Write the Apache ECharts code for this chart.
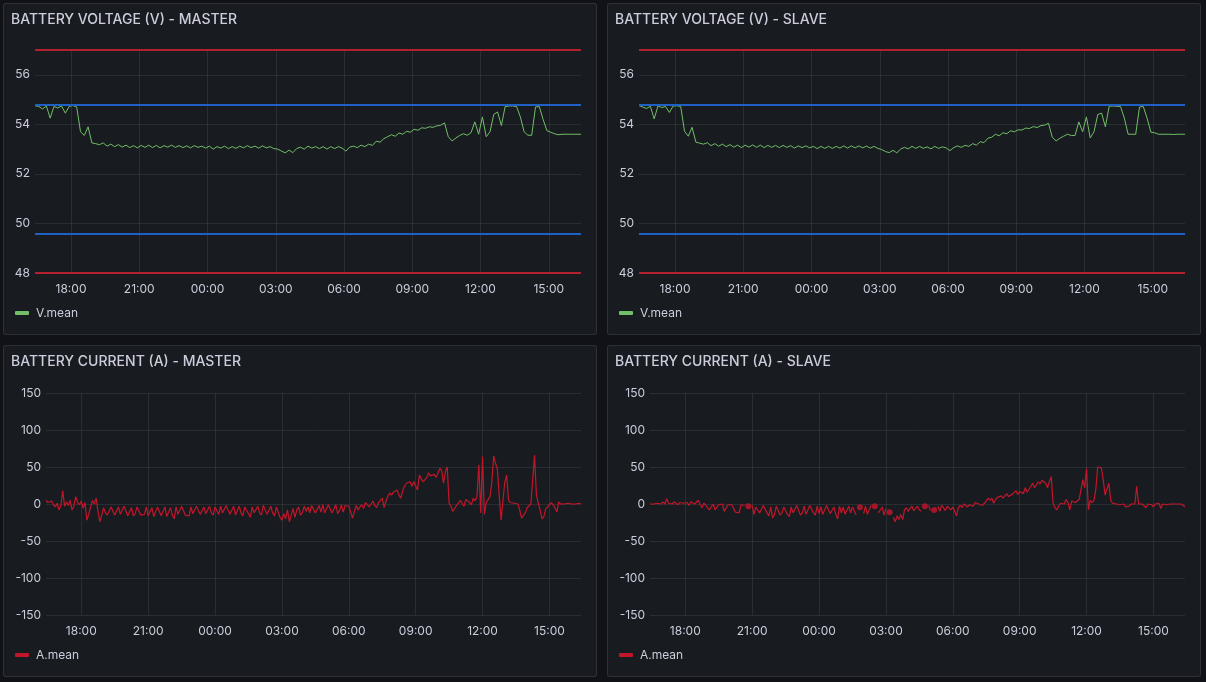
<!DOCTYPE html>
<html>
<head>
<meta charset="utf-8">
<title>Battery dashboard</title>
<script src="https://cdn.jsdelivr.net/npm/echarts@6/dist/echarts.min.js"></script>
<style>
  html, body { margin: 0; padding: 0; background: #111217; width: 1206px; height: 682px; overflow: hidden; }
  .panel { position: absolute; box-sizing: border-box; width: 594px; height: 332px;
           border: 1px solid rgba(204, 204, 220, 0.12); border-radius: 3px; background: #181b1f; }
  .chart { position: absolute; left: 0; top: 0; width: 592px; height: 330px; }
</style>
</head>
<body>
<div class="panel" style="left:3px;top:3px"><div class="chart" id="voltMaster"></div></div>
<div class="panel" style="left:607px;top:3px"><div class="chart" id="voltSlave"></div></div>
<div class="panel" style="left:3px;top:345px"><div class="chart" id="ampMaster"></div></div>
<div class="panel" style="left:607px;top:345px"><div class="chart" id="ampSlave"></div></div>
<script>
// time axis is in hours since midnight of the first day, 16:25 -> 16:25 next day
const T0 = 16 + 25 / 60;
const T1 = T0 + 24;
const VOLT_STEP = 10 / 60; // one sample every 10 min
const AMP_STEP = 5 / 60;   // one sample every 5 min

// threshold levels on the voltage panels
const redLevels = [57, 48];
const blueLevels = [54.8, 49.6];

// V.mean, one row per hour
const masterVolts = [
  54.75, 54.72, 54.62, 54.74, 54.25, 54.72,
  54.66, 54.74, 54.45, 54.72, 54.76, 54.7,
  53.7, 53.55, 53.9, 53.25, 53.22, 53.18,
  53.25, 53.12, 53.2, 53.1, 53.18, 53.08,
  53.16, 53.06, 53.14, 53.05, 53.15, 53.07,
  53.16, 53.06, 53.15, 53.05, 53.14, 53.08,
  53.16, 53.07, 53.14, 53.06, 53.13, 53.05,
  53.14, 53.07, 53.12, 53.04, 53.12, 53.0,
  53.1, 53.04, 53.12, 53.02, 53.1, 53.03,
  53.12, 53.05, 53.14, 53.06, 53.12, 53.04,
  53.13, 53.05, 53.1, 53.02, 53.0, 52.92,
  52.85, 52.96, 52.86, 53.02, 53.08, 53.0,
  53.12, 53.04, 53.1, 53.02, 53.1, 53.0,
  53.1, 53.02, 53.1, 53.04, 52.92, 53.08,
  53.12, 53.06, 53.16, 53.1, 53.2, 53.15,
  53.32, 53.28, 53.42, 53.5, 53.58, 53.52,
  53.65, 53.6, 53.72, 53.68, 53.8, 53.76,
  53.86, 53.84, 53.9, 53.88, 53.94, 53.96,
  54.06, 53.5, 53.33, 53.45, 53.55, 53.62,
  53.56, 53.66, 54.1, 53.6, 54.3, 53.5,
  53.7, 54.4, 54.5, 53.95, 54.72, 54.74,
  54.74, 54.72, 54.3, 53.7, 53.56, 53.56,
  54.7, 54.72, 54.2, 53.75, 53.68, 53.62,
  53.58, 53.6, 53.6, 53.6, 53.6, 53.6,
  53.6
];

const slaveVolts = [
  54.76, 54.7, 54.64, 54.73, 54.22, 54.74,
  54.68, 54.72, 54.48, 54.74, 54.75, 54.72,
  53.72, 53.52, 53.88, 53.28, 53.24, 53.2,
  53.26, 53.14, 53.22, 53.12, 53.2, 53.1,
  53.18, 53.08, 53.16, 53.06, 53.16, 53.08,
  53.17, 53.07, 53.16, 53.06, 53.15, 53.07,
  53.15, 53.06, 53.15, 53.07, 53.14, 53.04,
  53.13, 53.06, 53.13, 53.05, 53.11, 53.02,
  53.11, 53.03, 53.11, 53.03, 53.11, 53.04,
  53.13, 53.04, 53.13, 53.05, 53.13, 53.05,
  53.12, 53.04, 53.11, 53.03, 52.98, 52.9,
  52.86, 52.95, 52.85, 53.0, 53.07, 53.01,
  53.11, 53.03, 53.11, 53.03, 53.09, 53.01,
  53.11, 53.03, 53.09, 53.05, 52.94, 53.06,
  53.13, 53.07, 53.15, 53.11, 53.22, 53.16,
  53.3, 53.26, 53.44, 53.48, 53.6, 53.54,
  53.66, 53.62, 53.74, 53.7, 53.78, 53.77,
  53.85, 53.83, 53.91, 53.87, 53.95, 53.97,
  54.04, 53.48, 53.33, 53.44, 53.52, 53.6,
  53.55, 53.55, 54.1, 53.7, 54.3, 53.45,
  53.7, 54.4, 54.45, 53.9, 54.73, 54.74,
  54.73, 54.72, 54.25, 53.6, 53.6, 53.6,
  54.7, 54.72, 54.25, 53.68, 53.66, 53.6,
  53.6, 53.6, 53.6, 53.59, 53.6, 53.6,
  53.6
];

// A.mean, one row per hour (null = no sample)
const masterAmps = [
  5, 2, 3, 4, -1, -4, 1, -8, -2, 18, -3, 3,
  -2, 5, -8, -3, 10, 2, -1, 4, -6, 2, -22, -14,
  -4, 5, 0, 8, -10, -24, -15, -5, -12, -15, -14, -4,
  -5, -15, -16, -4, -14, -15, -3, -4, -16, -15, -5, -16,
  -13, -4, -4, -15, -17, -14, -4, -16, -15, -5, -17, -18,
  -4, -3, -16, -15, -4, -17, -16, -5, -15, -20, -4, -14,
  -15, -3, -4, -15, -14, -16, -4, -13, -15, -3, -5, -14,
  -16, -4, -13, -14, -3, -12, -15, -4, -5, -14, -3, -12,
  -13, -2, -4, -14, -12, -3, -15, -14, -3, -12, -16, -4,
  -2, -13, -18, -4, -12, -14, -3, -12, -15, -2, -4, -14,
  -13, -3, -12, -16, -4, -6, -18, -22, -13, -20, -8, -24,
  -15, -6, -18, -8, -4, -15, -12, -3, -10, -4, -12, -2,
  -1, -12, -10, -2, -11, -1, -12, -11, -1, -2, -12, -10,
  -1, -13, -9, -1, -11, -2, 0, -3, -3, -19, -10, -2,
  -8, -4, -1, -6, 2, 3, -4, 0, 4, -2, -5, 2,
  5, 8, -5, 4, 10, 15, 12, 16, 18, 19, 12, 8,
  18, 24, 28, 26, 30, 24, 30, 32, 19, 39, 34, 30,
  28, 36, 42, 38, 36, 40, 36, 38, 48, 45, 28, 44,
  50, 1, -3, -10, -10, -2, 1, 5, 5, -3, 6, 8,
  2, -1, 8, 4, 10, 53, -12, 64, -14, 2, 6, 10,
  30, 65, 55, 47, 10, -22, 5, 30, 39, 5, 2, 1,
  1, 1, 0, -8, -19, -20, -12, -5, -3, 0, 0, 66,
  12, 1, -8, -20, -17, -7, -4, -6, 2, 3, -5, -11,
  3, 0, 1, 0, 0, 1, 0, 0, 1, 0, 0, 1,
  0
];

const slaveAmps = [
  0, 1, 0, 2, 1, -1, 0, 3, 0, 7, 1, 2,
  0, 3, 1, -1, 2, 4, 1, 0, 2, -2, 3, 1,
  0, 2, 5, -1, -5, 1, -2, 0, -8, -7, 0, -8,
  -8, -1, 0, 0, -10, -9, -1, 0, -1, -2, -11, -12,
  -12, -1, -1, -2, null, -3, null, -2, -14, -4, -3, -12,
  -13, -2, -3, -12, -16, -4, -19, -14, -3, -2, -15, -12,
  -4, -3, -14, -17, -4, -12, -13, -2, -3, -15, -12, -3,
  -14, -16, -2, -4, -12, -15, -3, -13, -4, -14, -16, -2,
  -3, -13, -15, -4, -14, -20, -3, -12, -4, -14, -16, -3,
  -12, -4, -2, -15, null, -4.5, null, -13, -3, -14, -16, -2,
  null, -3, null, -12, -14, -4, -15, -6, null, -11, null, -18,
  -24, -16, -21, -14, -21, -8, -5, -10, -6, -3, -9, -10,
  -3, -8, -10, null, -3, null, -2, -9, null, -8, null, -3,
  -10, -2, -5, -9, -3, -2, -8, -4, -6, -16, -5, -2,
  -5, 0, 2, -4, -1, 1, -3, 2, 3, 0, 2, -2,
  1, 4, 8, 5, 8, 1, 6, 9, 7, 11, 8, 9,
  14, 10, 12, 13, 15, 18, 13, 17, 19, 14, 22, 16,
  20, 24, 28, 22, 26, 30, 27, 32, 33, 28, 22, 30,
  37, 1, -5, -8, -3, 1, 3, 0, 6, 2, -8, 4,
  3, 2, 1, 6, 5, 33, 22, 48, -8, 5, 2, 5,
  20, 50, 51, 49, 32, 12, 10, 28, 5, 1, 0, 0,
  0, -1, 0, 0, -4, -5, -3, 0, -1, 0, 24, 0,
  0, 0, 1, -5, 0, 0, -1, -4, 0, 0, 1, -6,
  0, 0, -1, 0, 0, 1, 0, 0, 0, 1, 0, -2,
  -4
];

const TEXT = '#ccccdc';
const GRID_LINE = 'rgba(204, 204, 220, 0.10)';
const GREEN = '#73bf69';
const RED_LINE = '#c4162a';
const RED_THRESHOLD = '#b3202e';
const BLUE_THRESHOLD = '#1f60c4';
const FONT = 'Inter, "Noto Sans", sans-serif';

function toPoints(values, step) {
  return values.map((v, i) => [T0 + i * step, v]);
}

// samples with no neighbour on either side get drawn as a dot, like Grafana does
function isolatedPoints(values, step) {
  const out = [];
  values.forEach((v, i) => {
    if (v === null) return;
    const prev = i > 0 ? values[i - 1] : null;
    const next = i < values.length - 1 ? values[i + 1] : null;
    if (prev === null && next === null) out.push([T0 + i * step, v]);
  });
  return out;
}

function hourLabel(v) {
  const h = Math.round(v) % 24;
  return (h < 10 ? '0' : '') + h + ':00';
}

function panelOption(cfg) {
  const series = [{
    name: cfg.seriesName,
    type: 'line',
    data: toPoints(cfg.values, cfg.step),
    showSymbol: false,
    connectNulls: false,
    lineStyle: { color: cfg.color, width: cfg.lineWidth },
    itemStyle: { color: cfg.color },
    z: 3,
  }];
  if (cfg.thresholds) {
    series[0].markLine = {
      silent: true,
      symbol: 'none',
      label: { show: false },
      lineStyle: { type: 'solid', width: 2 },
      data: redLevels.map((y) => ({ yAxis: y, lineStyle: { color: RED_THRESHOLD } }))
        .concat(blueLevels.map((y) => ({ yAxis: y, lineStyle: { color: BLUE_THRESHOLD } }))),
    };
  }
  const dots = isolatedPoints(cfg.values, cfg.step);
  if (dots.length) {
    series.push({
      name: cfg.seriesName,
      type: 'scatter',
      data: dots,
      symbolSize: 6,
      itemStyle: { color: cfg.color },
      z: 4,
    });
  }
  return {
    animation: false,
    textStyle: { fontFamily: FONT },
    title: {
      text: cfg.title,
      left: 7,
      top: 9,
      padding: 0,
      textStyle: { color: TEXT, fontSize: 14, fontWeight: 500, fontFamily: FONT },
    },
    legend: {
      left: 11,
      top: cfg.legendTop,
      padding: 0,
      icon: 'roundRect',
      itemWidth: 14,
      itemHeight: 4,
      data: [{ name: cfg.seriesName, itemStyle: { color: cfg.color } }],
      textStyle: { color: TEXT, fontSize: 12, fontFamily: FONT, padding: [0, 0, 0, 2] },
      selectedMode: false,
    },
    grid: { left: cfg.gridLeft, right: 15, top: cfg.gridTop, bottom: 61 },
    xAxis: {
      type: 'value',
      min: T0,
      max: T1,
      splitNumber: 8,
      axisLine: { show: false },
      axisTick: { show: false },
      axisLabel: {
        color: TEXT, fontSize: 12, fontFamily: FONT, margin: 10,
        showMinLabel: false, showMaxLabel: false, formatter: hourLabel,
      },
      splitLine: { lineStyle: { color: GRID_LINE }, showMinLine: false, showMaxLine: false },
    },
    yAxis: {
      type: 'value',
      min: cfg.yMin,
      max: cfg.yMax,
      interval: cfg.yStep,
      axisLine: { show: false },
      axisTick: { show: false },
      axisLabel: { color: TEXT, fontSize: 12, fontFamily: FONT, margin: 5, showMaxLabel: cfg.showTopLabel },
      splitLine: { lineStyle: { color: GRID_LINE } },
    },
    series,
  };
}

const voltBase = {
  seriesName: 'V.mean', step: VOLT_STEP, color: GREEN, lineWidth: 1, thresholds: true,
  yMin: 48, yMax: 57, yStep: 2, showTopLabel: false,
  gridLeft: 31, gridTop: 46, legendTop: 303,
};
const ampBase = {
  seriesName: 'A.mean', step: AMP_STEP, color: RED_LINE, lineWidth: 1.2, thresholds: false,
  yMin: -150, yMax: 150, yStep: 50, showTopLabel: true,
  gridLeft: 42, gridTop: 47, legendTop: 303,
};

const panels = [
  ['voltMaster', Object.assign({}, voltBase, { title: 'BATTERY VOLTAGE (V) - MASTER', values: masterVolts })],
  ['voltSlave', Object.assign({}, voltBase, { title: 'BATTERY VOLTAGE (V) - SLAVE', values: slaveVolts })],
  ['ampMaster', Object.assign({}, ampBase, { title: 'BATTERY CURRENT (A) - MASTER', values: masterAmps })],
  ['ampSlave', Object.assign({}, ampBase, { title: 'BATTERY CURRENT (A) - SLAVE', values: slaveAmps })],
];

panels.forEach(([id, cfg]) => {
  const chart = echarts.init(document.getElementById(id));
  chart.setOption(panelOption(cfg));
});
</script>
</body>
</html>
